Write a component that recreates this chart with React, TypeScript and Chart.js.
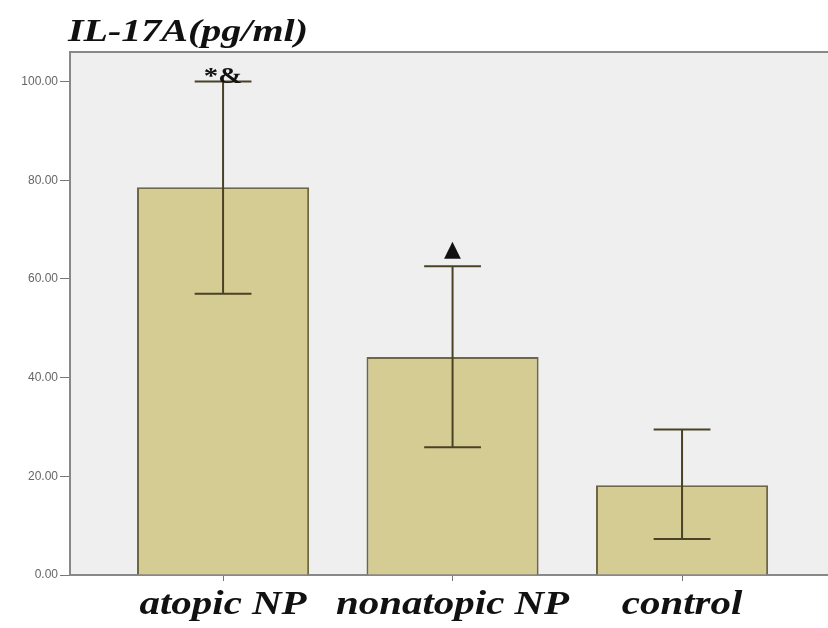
import React, { useEffect, useRef } from "react";
import { Chart, registerables } from "chart.js";

Chart.register(...registerables);

const chartTitle = "IL-17A(pg/ml)";
const categories = ["atopic NP", "nonatopic NP", "control"];
const meanValues = [78.6, 44.2, 18.2];
const errLow = [57.0, 25.9, 7.3];
const errHigh = [100.0, 62.6, 29.5];
const markers = ["*&", "▲", ""];
const yTicks = [0, 20, 40, 60, 80, 100];

const STRETCH = 1.24;

const bgPlugin = {
  id: "bgPlugin",
  beforeDraw(chart: any) {
    const { ctx, chartArea } = chart;
    ctx.save();
    ctx.fillStyle = "#ffffff";
    ctx.fillRect(0, 0, chart.width, chart.height);
    ctx.fillStyle = "#efefef";
    ctx.fillRect(chartArea.left, chartArea.top, chartArea.right - chartArea.left, chartArea.bottom - chartArea.top);
    ctx.restore();
  },
  afterDraw(chart: any) {
    const { ctx, chartArea } = chart;
    ctx.save();
    ctx.strokeStyle = "#888888";
    ctx.lineWidth = 2;
    ctx.beginPath();
    ctx.moveTo(chartArea.left - 1, chartArea.top);
    ctx.lineTo(chartArea.right, chartArea.top);
    ctx.stroke();
    ctx.restore();

    // title
    ctx.save();
    ctx.fillStyle = "#111111";
    ctx.font = "bold italic 32px 'Liberation Serif'";
    ctx.textBaseline = "alphabetic";
    ctx.textAlign = "left";
    ctx.translate(68, 41);
    ctx.scale(1.25, 1);
    ctx.fillText(chartTitle, 0, 0);
    ctx.restore();

    // category labels, placed with the x scale
    const xScale = chart.scales.x;
    categories.forEach((label, i) => {
      const x = xScale.getPixelForValue(i);
      ctx.save();
      ctx.fillStyle = "#111111";
      ctx.font = "bold italic 33px 'Liberation Serif'";
      ctx.textBaseline = "alphabetic";
      ctx.textAlign = "center";
      ctx.translate(x, chartArea.bottom + 39);
      ctx.scale(STRETCH, 1);
      ctx.fillText(label, 0, 0);
      ctx.restore();
    });
  },
};

const errorBarPlugin = {
  id: "errorBarPlugin",
  afterDatasetsDraw(chart: any) {
    const { ctx } = chart;
    const yScale = chart.scales.y;
    const meta = chart.getDatasetMeta(0);
    ctx.save();
    meta.data.forEach((bar: any, i: number) => {
      const x = bar.x;
      const capHalf = bar.width * 0.165;
      const yLo = yScale.getPixelForValue(errLow[i]);
      const yHi = yScale.getPixelForValue(errHigh[i]);
      ctx.strokeStyle = "#4a4225";
      ctx.lineWidth = 2;
      ctx.beginPath();
      ctx.moveTo(x, yLo);
      ctx.lineTo(x, yHi);
      ctx.moveTo(x - capHalf, yHi);
      ctx.lineTo(x + capHalf, yHi);
      ctx.moveTo(x - capHalf, yLo);
      ctx.lineTo(x + capHalf, yLo);
      ctx.stroke();
      const m = markers[i];
      if (m) {
        ctx.fillStyle = "#111111";
        ctx.textAlign = "center";
        ctx.textBaseline = "alphabetic";
        if (m === "▲") {
          ctx.font = "22px 'DejaVu Sans'";
          ctx.fillText(m, x, yHi - 10);
        } else {
          ctx.save();
          ctx.font = "bold 24px 'Liberation Serif'";
          ctx.translate(x, yHi + 1);
          ctx.scale(1.2, 1);
          ctx.fillText(m, 0, 0);
          ctx.restore();
        }
      }
    });
    ctx.restore();
  },
};

export default function App() {
  const canvasRef = useRef<HTMLCanvasElement | null>(null);

  useEffect(() => {
    if (!canvasRef.current) return;
    const chart = new Chart(canvasRef.current, {
      type: "bar",
      data: {
        datasets: [
          {
            data: meanValues.map((v, i) => ({ x: i, y: v })) as any,
            backgroundColor: "#d5cc93",
            borderColor: "#6e6745",
            borderWidth: 2,
            categoryPercentage: 1,
            barPercentage: 0.75,
          },
        ],
      },
      options: {
        animation: false,
        responsive: true,
        maintainAspectRatio: false,
        layout: { padding: { top: 52, right: 0, bottom: 0, left: 0 } },
        plugins: {
          legend: { display: false },
          tooltip: { enabled: false },
          title: { display: false },
        },
        scales: {
          x: {
            type: "linear",
            min: -0.667,
            max: 2.636,
            offset: false,
            afterBuildTicks: (scale: any) => {
              scale.ticks = categories.map((_, i) => ({ value: i }));
            },
            afterFit: (scale: any) => {
              scale.height = 53;
            },
            ticks: {
              display: false,
            },
            grid: { drawOnChartArea: false, offset: false, tickLength: 6, color: "#777777", lineWidth: 1 },
            border: { color: "#888888", width: 2 },
          },
          y: {
            type: "linear",
            min: 0,
            max: 106,
            afterBuildTicks: (scale: any) => {
              scale.ticks = yTicks.map((v) => ({ value: v }));
            },
            afterFit: (scale: any) => {
              scale.width = 70;
            },
            ticks: {
              padding: 2,
              color: "#666666",
              font: { family: "'Liberation Sans'", size: 12 },
              callback: (v: any) => Number(v).toFixed(2),
            },
            grid: { drawOnChartArea: false, tickLength: 10, color: "#777777", lineWidth: 1 },
            border: { color: "#888888", width: 2 },
          },
        },
      },
      plugins: [bgPlugin, errorBarPlugin],
    } as any);
    return () => chart.destroy();
  }, []);

  return (
    <div style={{ position: "absolute", left: 0, top: 0, width: 828, height: 628 }}>
      <canvas ref={canvasRef} />
    </div>
  );
}
